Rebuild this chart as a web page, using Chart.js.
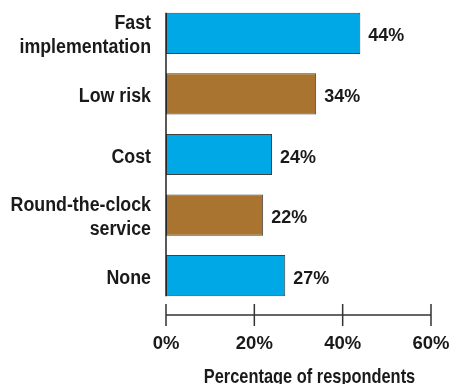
<!DOCTYPE html>
<html>
<head>
<meta charset="utf-8">
<script src="https://cdn.jsdelivr.net/npm/chart.js@4"></script>
<style>
    html, body { margin: 0; padding: 0; background: #ffffff; }
    #wrap { width: 449px; height: 384px; }
</style>
</head>
<body>
<div id="wrap"><canvas id="chart"></canvas></div>
<script>
const categories = [["Fast", "implementation"], "Low risk", "Cost", ["Round-the-clock", "service"], "None"];
const values = [44, 34, 24, 22, 27];
const barColors = ["#00a9e6", "#a87430", "#00a9e6", "#a87430", "#00a9e6"];
const tickValues = [0, 20, 40, 60];
const axisTitle = "Percentage of respondents";

const FONT = "'Liberation Sans', Arial, sans-serif";
const INK = "#1a1a1a";

// bold text squeezed horizontally to get a condensed look
function drawText(ctx, text, x, y, align, size, squeeze) {
    ctx.save();
    ctx.font = "bold " + size + "px " + FONT;
    ctx.fillStyle = INK;
    ctx.textAlign = align;
    ctx.textBaseline = "alphabetic";
    ctx.translate(x, y);
    ctx.scale(squeeze, 1);
    ctx.fillText(text, 0, 0);
    ctx.restore();
}

// category names, value labels, axis lines, tick labels and title
const decorations = {
    id: "decorations",
    afterDraw(chart) {
        const ctx = chart.ctx;
        const x = chart.scales.x;
        const y = chart.scales.y;
        const meta = chart.getDatasetMeta(0);
        const bars = meta.data;
        const x0 = x.getPixelForValue(0);

        // category labels, right aligned next to the axis
        categories.forEach((label, i) => {
            const lines = Array.isArray(label) ? label : [label];
            const cy = y.getPixelForValue(i);
            let base = cy + 8 - (lines.length - 1) * 12;
            lines.forEach(line => {
                drawText(ctx, line, x0 - 15, base, "right", 20, 0.89);
                base += 24;
            });
        });

        // value at the end of each bar
        bars.forEach((bar, i) => {
            drawText(ctx, values[i] + "%", bar.x + 8, bar.y + 8, "left", 18.5, 0.97);
        });

        ctx.save();
        ctx.strokeStyle = "#222";
        ctx.lineWidth = 1.5;
        // vertical axis only spans the bars
        const first = bars[0];
        const last = bars[bars.length - 1];
        ctx.beginPath();
        ctx.moveTo(x0, first.y - first.height / 2);
        ctx.lineTo(x0, last.y + last.height / 2);
        ctx.stroke();

        // detached value axis with ticks crossing it
        const yAxis = chart.chartArea.bottom + 9;
        ctx.strokeStyle = "#333";
        ctx.beginPath();
        ctx.moveTo(x.getPixelForValue(tickValues[0]), yAxis);
        ctx.lineTo(x.getPixelForValue(tickValues[tickValues.length - 1]), yAxis);
        tickValues.forEach(v => {
            const px = x.getPixelForValue(v);
            ctx.moveTo(px, yAxis - 11);
            ctx.lineTo(px, yAxis + 11);
        });
        ctx.stroke();
        ctx.restore();

        tickValues.forEach(v => {
            drawText(ctx, v + "%", x.getPixelForValue(v), yAxis + 34, "center", 18.5, 1);
        });

        drawText(ctx, axisTitle, (x.left + x.right) / 2 + 11, yAxis + 68, "center", 20.5, 0.8);
    }
};

new Chart(document.getElementById("chart"), {
    type: "bar",
    data: {
        labels: categories,
        datasets: [{
            data: values,
            backgroundColor: barColors,
            borderColor: "#404040",
            borderWidth: 1,
            borderSkipped: false,
            categoryPercentage: 1,
            barPercentage: 0.68
        }]
    },
    options: {
        indexAxis: "y",
        responsive: true,
        maintainAspectRatio: false,
        animation: false,
        layout: { padding: { top: 3, right: 18, left: 0, bottom: 0 } },
        plugins: {
            legend: { display: false },
            tooltip: { enabled: false }
        },
        scales: {
            x: {
                min: 0,
                max: 60,
                afterBuildTicks(scale) {
                    scale.ticks = tickValues.map(v => ({ value: v }));
                },
                afterFit(scale) {
                    scale.height = 78;
                    scale.paddingLeft = scale.paddingRight = 0;
                    scale.paddingTop = scale.paddingBottom = 0;
                },
                grid: { display: false, drawTicks: false },
                border: { display: false },
                ticks: { display: false }
            },
            y: {
                afterFit(scale) {
                    scale.width = 166;
                    scale.paddingLeft = scale.paddingRight = 0;
                    scale.paddingTop = scale.paddingBottom = 0;
                },
                grid: { display: false, drawTicks: false },
                border: { display: false },
                ticks: { display: false }
            }
        }
    },
    plugins: [decorations]
});
</script>
</body>
</html>
